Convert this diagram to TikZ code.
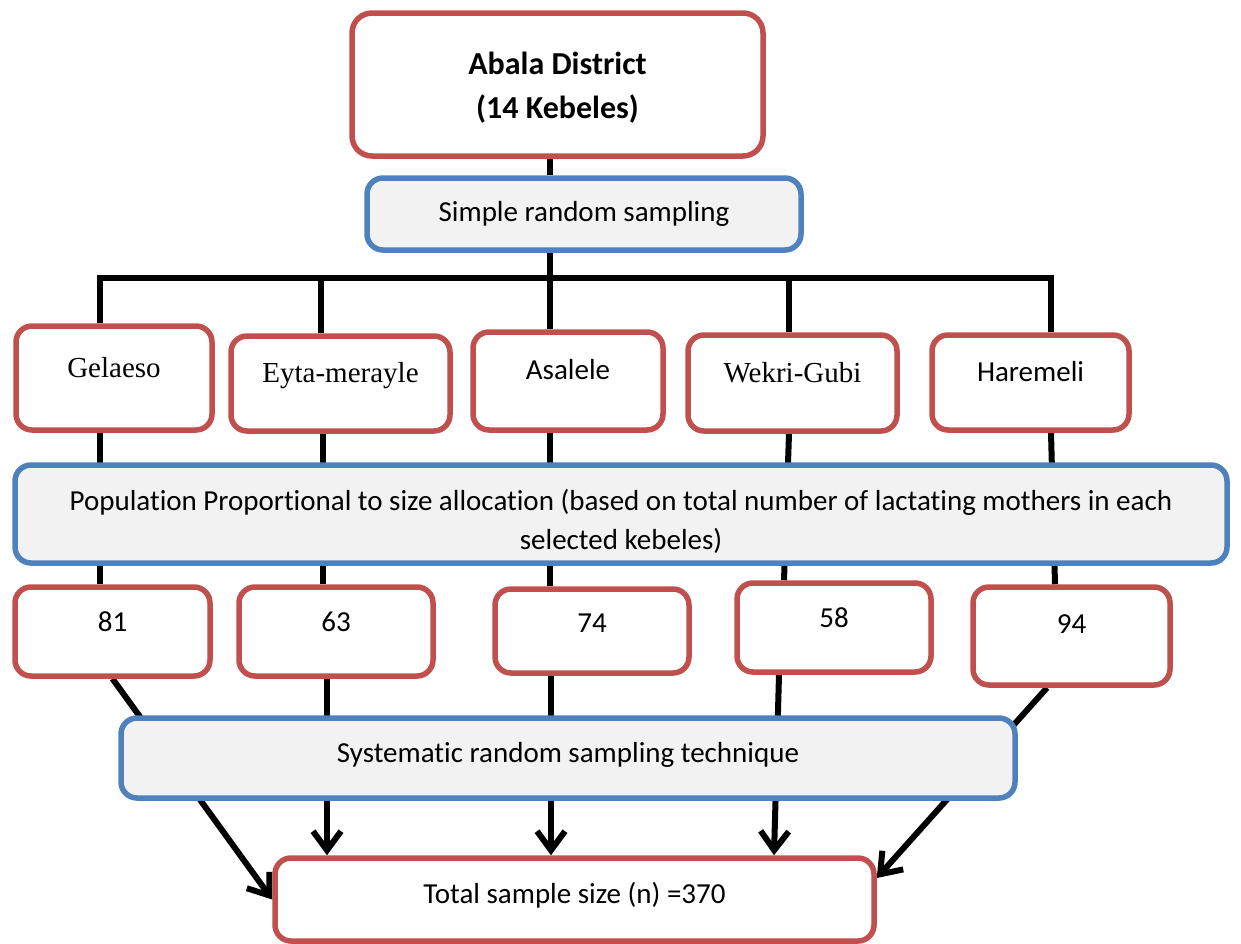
\documentclass[tikz,border=0pt]{standalone}
\usepackage{fontspec}
\setmainfont{Carlito}[RawFeature={-liga;-clig;-calt;-dlig}]
\newfontfamily\tnr{Liberation Serif}
\usetikzlibrary{arrows.meta,backgrounds}
\definecolor{bred}{HTML}{C0504D}
\definecolor{bblue}{HTML}{4F81BD}
\definecolor{bgray}{HTML}{F2F2F2}
\begin{document}
\begin{tikzpicture}[x=1pt,y=-1pt,
  box/.style={line width=5.5pt, rounded corners=16pt, inner xsep=0pt, inner ysep=0pt, font=\fontsize{29}{39}\selectfont},
  redbox/.style={box, draw=bred, fill=white},
  bluebox/.style={box, draw=bblue, fill=bgray},
  conn/.style={line width=6pt, draw=black},
  arr/.style={conn, -{Straight Barb[length=19pt,width=28pt]}}]
\useasboundingbox (0,0) rectangle (1241,943);

% top
\node[redbox, rounded corners=20pt, minimum width=411pt, minimum height=143pt, align=center,
      font=\bfseries\fontsize{32}{44}\selectfont] (top) at (557.5,84.5)
      {\rule{0pt}{28.5pt}Abala District\\(14 Kebeles)};
\node[bluebox, minimum width=434pt, minimum height=72pt] (srs) at (584,214) {Simple random sampling};

% kebeles
\node[redbox, minimum width=196pt, text height=51pt, text depth=53pt] (gel) at (114,378) {\tnr Gelaeso};
\node[redbox, minimum width=219pt, text height=46pt, text depth=49pt] (eyt) at (340.5,383.5) {\tnr Eyta-merayle};
\node[redbox, minimum width=190pt, text height=47pt, text depth=51pt] (asa) at (568,381) {Asalele};
\node[redbox, minimum width=209pt, text height=47pt, text depth=49pt] (wek) at (792.5,383) {\tnr Wekri-Gubi};
\node[redbox, minimum width=197pt, text height=46pt, text depth=49pt] (har) at (1030.5,382.5) {Haremeli};

% population
\node[bluebox, minimum width=1212pt, minimum height=98pt, align=center] (pps) at (621,514)
  {\rule{0pt}{35pt}Population Proportional to size allocation (based on total number of lactating mothers in each\\selected kebeles)};

% numbers
\node[redbox, minimum width=195pt, text height=44pt, text depth=45pt] (n81) at (112.5,631.5) {81};
\node[redbox, minimum width=194pt, text height=44pt, text depth=45pt] (n63) at (336,631.5) {63};
\node[redbox, minimum width=194pt, text height=43pt, text depth=41pt] (n74) at (592,631) {74};
\node[redbox, minimum width=194pt, text height=44pt, text depth=45pt] (n58) at (834,627.5) {58};
\node[redbox, minimum width=197pt, text height=46pt, text depth=52pt] (n94) at (1071.5,636) {94};

\node[bluebox, minimum width=894pt, text height=44pt, text depth=36pt] (sys) at (568,758) {Systematic random sampling technique};
\node[redbox, minimum width=599pt, text height=45pt, text depth=38pt] (total) at (574.5,899.5) {Total sample size (n) =370};

\coordinate (x1) at (100,0);
\coordinate (x2u) at (321,0);
\coordinate (x2d) at (323,0);
\coordinate (x3) at (550,0);
\coordinate (x4u) at (789,0);
\coordinate (x4d) at (784,0);
\coordinate (x5) at (1051,0);
\coordinate (x5d) at (1055,0);
\coordinate (bar) at (0,278);
\coordinate (a2) at (327,0);
\coordinate (a3) at (551,0);
\coordinate (a4s) at (779,0);
\coordinate (a4e) at (774,0);

\begin{scope}[on background layer]
\draw[conn] (gel.north -| x1) |- (bar -| x5) -- (har.north -| x5);
\draw[conn] (top.south -| x3) -- (srs.north -| x3);
\draw[conn] (srs.south -| x3) -- (bar -| x3) -- (asa.north -| x3);
\draw[conn] (eyt.north -| x2u) -- (bar -| x2u);
\draw[conn] (wek.north -| x4u) -- (bar -| x4u);
\draw[conn] (gel.south -| x1) -- (n81.north -| x1);
\draw[conn] (eyt.south -| x2d) -- (n63.north -| x2d);
\draw[conn] (asa.south -| x3) -- (n74.north -| x3);
\draw[conn] (wek.south -| x4u) -- (n58.north -| x4d);
\draw[conn] (har.south -| x5) -- (n94.north -| x5d);
\draw[arr] (n81.south) -- (total.west);
\draw[arr] (n63.south -| a2) -- (total.north -| a2);
\draw[arr] (n74.south -| a3) -- (total.north -| a3);
\draw[arr] (n58.south -| a4s) -- (total.north -| a4e);
\draw[arr] ([xshift=-24.5pt]n94.south) -- ([yshift=21.5pt]total.east);
\end{scope}
\end{tikzpicture}
\end{document}
